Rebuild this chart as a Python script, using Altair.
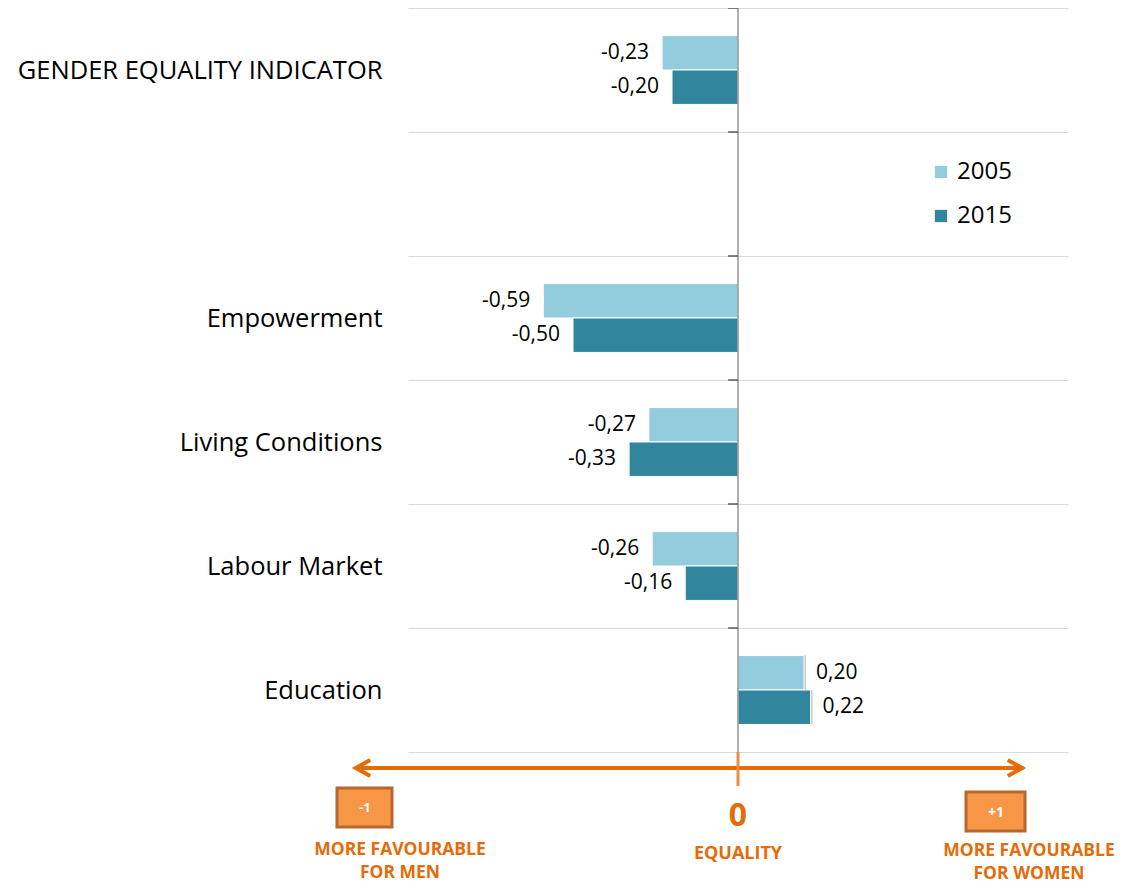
import altair as alt
import pandas as pd

categories = ["GENDER EQUALITY INDICATOR", " ", "Empowerment", "Living Conditions", "Labour Market", "Education"]
years = ["2005", "2015"]
values_2005 = [-0.23, None, -0.59, -0.27, -0.26, 0.20]
values_2015 = [-0.20, None, -0.50, -0.33, -0.16, 0.22]
colors = ["#93CDDD", "#31859C"]

rows = []
for cat, v5, v15 in zip(categories, values_2005, values_2015):
    for yr, v in (("2005", v5), ("2015", v15)):
        if v is None:
            continue
        rows.append({"category": cat, "year": yr, "value": v,
                     "label": f"{v:.2f}".replace(".", ",")})
df = pd.DataFrame(rows)
cat_df = pd.DataFrame({"category": categories})

ORANGE = "#E36C09"
FONT = "Open Sans"

y_scale = alt.Scale(domain=categories, paddingInner=0, paddingOuter=0)
y_enc = alt.Y("category:N", scale=y_scale,
              axis=alt.Axis(title=None, tickBand="extent", grid=True, gridColor="#D9D9D9",
                            gridWidth=1, domain=False, ticks=False, labelFontSize=25.5,
                            labelFont=FONT, labelColor="#000000", labelPadding=26,
                            labelLimit=0))
x_enc = alt.X("value:Q", scale=alt.Scale(domain=[-1, 1], nice=False, zero=False), axis=None)
yoff = alt.YOffset("year:N", scale=alt.Scale(domain=years, paddingOuter=0.8, paddingInner=0))

base = alt.Chart(df)

shadow = base.mark_bar(color="#8C8C8C", opacity=0.45, xOffset=2, yOffset=2).encode(
    x=x_enc, x2=alt.datum(0), y=y_enc, yOffset=yoff)

bars = base.mark_bar(stroke="white", strokeWidth=1).encode(
    x=x_enc, x2=alt.datum(0), y=y_enc, yOffset=yoff,
    color=alt.Color("year:N", scale=alt.Scale(domain=years, range=colors),
                    legend=alt.Legend(title=None, orient="none", legendX=521, legendY=152,
                                      symbolType="square", symbolSize=150, symbolStrokeWidth=0,
                                      labelFontSize=24, labelFont=FONT, labelColor="#000000",
                                      rowPadding=20, labelOffset=4, padding=0)),
)

neg_text = base.transform_filter("datum.value < 0").mark_text(
    align="right", baseline="middle", dx=-13, fontSize=21, font=FONT, color="#000000"
).encode(x=x_enc, y=y_enc, yOffset=yoff, text="label:N")

pos_text = base.transform_filter("datum.value >= 0").mark_text(
    align="left", baseline="middle", dx=12, fontSize=21, font=FONT, color="#000000"
).encode(x=x_enc, y=y_enc, yOffset=yoff, text="label:N")

zero_rule = alt.Chart(cat_df).transform_filter("datum.category == 'Education'").mark_rule(
    color="#868686", strokeWidth=1.3).encode(x=alt.datum(0))

cat_ticks = alt.Chart(cat_df).mark_rule(color="#595959", strokeWidth=1.5).encode(
    y=alt.Y("category:N", bandPosition=0, scale=y_scale),
    x=alt.datum(-0.03), x2=alt.datum(0))

one = alt.Data(values=[{"a": 1}])

def txt(text, x, y, size, color=ORANGE, weight="bold", baseline="alphabetic"):
    return alt.Chart(one).mark_text(
        text=text, fontSize=size, font=FONT, fontWeight=weight, color=color,
        align="center", baseline=baseline).encode(x=alt.value(x), y=alt.value(y))

arrow_line = alt.Chart(one).mark_rule(color=ORANGE, strokeWidth=4).encode(
    x=alt.value(-49), x2=alt.value(611), y=alt.value(760))
head_l = alt.Chart(one).mark_point(
    shape="M 0.9 -1 L -0.9 0 L 0.9 1", filled=False, stroke=ORANGE, strokeWidth=4,
    size=256, strokeJoin="miter", opacity=1).encode(x=alt.value(-45), y=alt.value(760))
head_r = alt.Chart(one).mark_point(
    shape="M -0.9 -1 L 0.9 0 L -0.9 1", filled=False, stroke=ORANGE, strokeWidth=4,
    size=256, strokeJoin="miter", opacity=1).encode(x=alt.value(607), y=alt.value(760))
zero_tick = alt.Chart(one).mark_rule(color="#F08C3C", strokeWidth=3).encode(
    x=alt.value(330), y=alt.value(744), y2=alt.value(778))

box_l = alt.Chart(one).mark_rect(fill="#F79646", stroke="#B6682E", strokeWidth=3).encode(
    x=alt.value(-71), x2=alt.value(-16), y=alt.value(780), y2=alt.value(819))
box_r = alt.Chart(one).mark_rect(fill="#F79646", stroke="#B6682E", strokeWidth=3).encode(
    x=alt.value(558), x2=alt.value(617), y=alt.value(784), y2=alt.value(823))

annotations = [
    arrow_line, head_l, head_r, zero_tick, box_l, box_r,
    txt("-1", -43, 800, 13, color="white", baseline="middle"),
    txt("+1", 588, 805, 14, color="white", baseline="middle"),
    txt("0", 330, 818, 32),
    txt("EQUALITY", 330, 851, 18),
    txt("MORE FAVOURABLE", -8, 847, 17.5),
    txt("FOR MEN", -8, 870, 17.5),
    txt("MORE FAVOURABLE", 621, 848, 17.5),
    txt("FOR WOMEN", 621, 871, 17.5),
]

chart = alt.layer(shadow, bars, neg_text, pos_text, zero_rule, cat_ticks, *annotations).properties(
    width=660, height=744,
    autosize=alt.AutoSizeParams(type="none"),
    padding={"left": 400, "top": 0, "right": 52, "bottom": 133},
).configure_view(stroke=None).configure_point(opacity=1)

chart.save("out.html", embed_options={"renderer": "svg", "actions": False})
